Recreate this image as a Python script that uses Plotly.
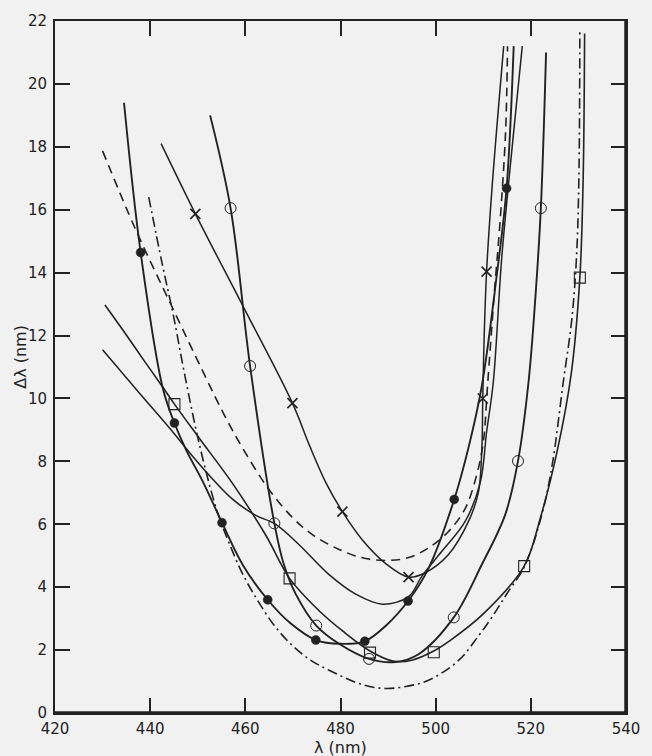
import plotly.graph_objects as go

# ---------------- data ----------------
x_ticks = [420, 440, 460, 480, 500, 520, 540]
y_ticks = [0, 2, 4, 6, 8, 10, 12, 14, 16, 18, 20, 22]

# curve with filled circles
filled_x = [434.5, 438.0, 442.7, 445.1, 447.6, 451.1, 455.1, 459.5, 464.7, 469.5, 474.8, 480.0,
            485.1, 489.7, 494.2, 498.5, 503.9, 507.0, 509.7, 512.8, 514.9, 516.4]
filled_y = [19.4, 14.64, 10.3, 9.22, 8.35, 7.35, 6.05, 4.7, 3.6, 2.85, 2.32, 2.2,
            2.28, 2.8, 3.56, 4.6, 6.79, 8.5, 10.4, 13.87, 16.68, 21.2]
filled_mx = [438.0, 445.1, 455.1, 464.7, 474.8, 485.1, 494.2, 503.9, 514.9]
filled_my = [14.64, 9.22, 6.05, 3.6, 2.32, 2.28, 3.56, 6.79, 16.68]

# curve with open circles
open_x = [452.6, 456.9, 461.0, 466.1, 468.1, 470.6, 474.9, 479.7, 486.0, 491.5, 496.4,
          503.8, 509.7, 514.6, 517.3, 519.5, 521.0, 522.1, 523.2]
open_y = [19.0, 16.05, 11.03, 6.03, 4.72, 3.78, 2.78, 2.2, 1.72, 1.62, 1.87,
          3.04, 4.72, 6.3, 8.01, 10.5, 13.3, 16.05, 21.0]
open_mx = [456.9, 461.0, 466.1, 474.9, 486.0, 503.8, 517.3, 522.1]
open_my = [16.05, 11.03, 6.03, 2.78, 1.72, 3.04, 8.01, 16.05]

# curve with crosses
cross_x = [442.3, 449.5, 459.8, 469.9, 473.5, 477.0, 480.4, 484.6, 489.5, 494.3, 497.8,
           502.7, 506.9, 509.0, 509.7, 509.9, 510.2, 510.7, 511.8, 514.3]
cross_y = [18.1, 15.87, 12.85, 9.85, 8.5, 7.3, 6.4, 5.5, 4.75, 4.32, 4.46,
           5.04, 6.09, 7.03, 8.4, 10.0, 12.0, 14.03, 16.6, 21.2]
cross_mx = [449.5, 469.9, 480.4, 494.3, 509.9, 510.7]
cross_my = [15.87, 9.85, 6.4, 4.32, 10.0, 14.03]

# curve with open squares
square_x = [430.5, 434.7, 438.5, 442.7, 445.1, 450.4, 457.3, 464.3, 469.3, 475.5, 480.5,
            486.2, 491.0, 495.0, 499.6, 503.0, 510.0, 518.6, 522.0, 525.5, 528.5, 530.3,
            531.0, 531.3]
square_y = [12.97, 12.08, 11.25, 10.35, 9.82, 8.72, 7.3, 5.65, 4.28, 3.25, 2.6,
            1.97, 1.65, 1.68, 1.97, 2.3, 3.15, 4.67, 6.2, 8.3, 10.8, 13.84,
            17.0, 21.6]
square_mx = [445.1, 469.3, 486.2, 499.6, 518.6, 530.3]
square_my = [9.82, 4.28, 1.92, 1.93, 4.67, 13.84]

# unmarked solid curve
plain_x = [430.0, 437.0, 444.1, 450.4, 457.3, 462.0, 466.4, 471.3, 477.6, 483.2, 488.8,
           494.3, 497.1, 501.3, 506.2, 509.4, 510.7, 512.1, 513.9, 516.2, 518.2]
plain_y = [11.55, 10.3, 9.05, 7.9, 6.8, 6.3, 6.0, 5.35, 4.4, 3.78, 3.46,
           3.7, 4.35, 5.14, 6.09, 7.35, 8.93, 10.5, 14.5, 18.18, 21.2]

# dashed curve
dashed_x = [430.0, 437.0, 444.8, 451.1, 456.0, 460.1, 465.0, 470.0, 474.1, 479.7, 485.0,
            490.0, 494.5, 498.5, 502.7, 506.2, 508.5, 510.0, 510.9, 512.3, 513.5, 514.7, 515.1]
dashed_y = [17.87, 15.35, 12.85, 10.85, 9.35, 8.25, 7.1, 6.2, 5.67, 5.2, 4.92,
            4.85, 4.95, 5.25, 5.77, 6.5, 7.5, 8.6, 10.4, 13.3, 15.55, 18.5, 21.2]

# dash-dot curve
dashdot_x = [439.7, 442.5, 444.8, 447.2, 450.4, 453.9, 456.6, 459.5, 462.5, 466.0, 469.5,
             473.5, 477.6, 484.6, 489.5, 494.0, 498.5, 504.8, 509.0, 511.8, 515.0, 518.7,
             522.3, 524.5, 526.8, 528.6, 529.6, 530.1, 530.3]
dashdot_y = [16.4, 14.3, 12.7, 10.8, 8.5, 6.5, 5.4, 4.4, 3.6, 2.8, 2.2,
             1.7, 1.36, 0.9, 0.78, 0.85, 1.04, 1.67, 2.45, 3.04, 3.8, 4.67,
             6.3, 7.9, 10.5, 12.5, 14.5, 17.0, 21.7]

# ---------------- figure ----------------
INK = "#222222"
BG = "#f1f1f1"
fig = go.Figure()


def add_line(x, y, width=1.5, dash="solid"):
    fig.add_trace(go.Scatter(x=x, y=y, mode="lines",
                             line=dict(color=INK, width=width, dash=dash,
                                       shape="spline", smoothing=1.0),
                             hoverinfo="skip", showlegend=False))


def add_marks(x, y, symbol, size, lw=1.2):
    fig.add_trace(go.Scatter(x=x, y=y, mode="markers",
                             marker=dict(symbol=symbol, size=size, color=INK,
                                         line=dict(color=INK, width=lw)),
                             showlegend=False))


add_line(plain_x, plain_y, 1.5)
add_line(dashed_x, dashed_y, 1.6, "9px,6px")
add_line(dashdot_x, dashdot_y, 1.6, "10px,4px,2px,4px")
add_line(square_x, square_y, 1.6)
add_line(cross_x, cross_y, 1.5)
add_line(open_x, open_y, 1.9)
add_line(filled_x, filled_y, 1.9)

add_marks(filled_mx, filled_my, "circle", 9, 0.5)
add_marks(open_mx, open_my, "circle-open", 11, 1.0)
add_marks(cross_mx, cross_my, "x-thin-open", 10, 1.6)
add_marks(square_mx, square_my, "square-open", 11, 1.1)

axis_common = dict(showgrid=False, zeroline=False, showline=True, linewidth=2,
                   linecolor=INK, mirror="ticks", ticks="inside", ticklen=15,
                   tickwidth=1.5, tickcolor=INK,
                   tickfont=dict(family="DejaVu Sans", size=15, color=INK))

fig.update_layout(
    width=652, height=756,
    margin=dict(l=55, r=24, t=15, b=43),
    paper_bgcolor=BG, plot_bgcolor=BG,
    xaxis=dict(range=[420, 540], tickvals=x_ticks, ticklabelstandoff=1, **axis_common),
    yaxis=dict(range=[0, 22], tickvals=y_ticks, ticklabelstandoff=3, **axis_common),
    shapes=[
        dict(type="line", xref="paper", yref="paper", x0=0, x1=1, y0=0, y1=0,
             line=dict(color=INK, width=3.5)),
        dict(type="line", xref="paper", yref="paper", x0=1, x1=1, y0=0, y1=1,
             line=dict(color=INK, width=3.5)),
    ],
    annotations=[
        dict(text="λ (nm)", xref="paper", yref="paper", x=0.5, y=-0.05,
             xanchor="center", yanchor="middle", showarrow=False,
             font=dict(family="DejaVu Sans", size=16, color=INK)),
        dict(text="Δλ (nm)", xref="paper", yref="paper", x=-0.061, y=0.515,
             xanchor="center", yanchor="middle", showarrow=False, textangle=-90,
             font=dict(family="DejaVu Sans", size=16, color=INK)),
    ],
)

fig.write_html(
    "out.html",
    config={"displayModeBar": False},
    post_script="document.body.style.margin='0';document.body.style.overflow='hidden';",
)
